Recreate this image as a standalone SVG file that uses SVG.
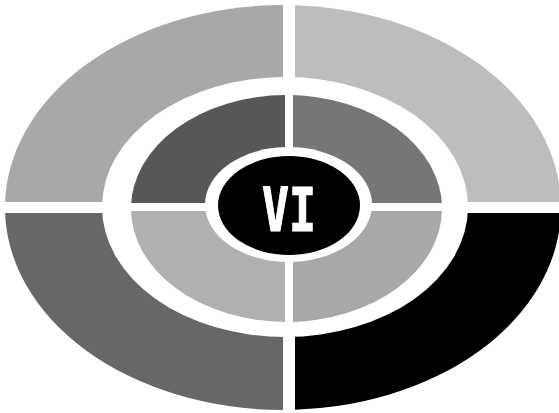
<svg xmlns="http://www.w3.org/2000/svg" width="559" height="413" viewBox="0 0 559 413">
  <style>
    .gap { fill: #ffffff; }
    .label { font-family: "DejaVu Sans Mono", "Liberation Mono", monospace; font-weight: bold; fill: #ffffff; }
  </style>
  <defs>
    <clipPath id="oTL"><rect x="0" y="0" width="283" height="202"/></clipPath>
    <clipPath id="oTR"><rect x="295" y="0" width="264" height="202"/></clipPath>
    <clipPath id="oBL"><rect x="0" y="213" width="283" height="200"/></clipPath>
    <clipPath id="oBR"><rect x="295" y="213" width="264" height="200"/></clipPath>
    <clipPath id="mTL"><rect x="0" y="0" width="285" height="203"/></clipPath>
    <clipPath id="mTR"><rect x="293" y="0" width="266" height="203"/></clipPath>
    <clipPath id="mBL"><rect x="0" y="211" width="285" height="202"/></clipPath>
    <clipPath id="mBR"><rect x="293" y="211" width="266" height="202"/></clipPath>
    <ellipse id="outerE" cx="283" cy="207.5" rx="278" ry="202.5"/>
    <ellipse id="midE" cx="286.5" cy="208.5" rx="155.5" ry="113.5"/>
  </defs>
  <rect width="559" height="413" fill="#ffffff"/>
  <g id="outer-top-left"><use href="#outerE" clip-path="url(#oTL)" fill="#a8a8a8"/></g>
  <g id="outer-top-right"><use href="#outerE" clip-path="url(#oTR)" fill="#bdbdbd"/></g>
  <g id="outer-bottom-left"><use href="#outerE" clip-path="url(#oBL)" fill="#676767"/></g>
  <g id="outer-bottom-right"><use href="#outerE" clip-path="url(#oBR)" fill="#000000"/></g>
  <ellipse class="gap" cx="285" cy="207" rx="183" ry="130"/>
  <g id="middle-top-left"><use href="#midE" clip-path="url(#mTL)" fill="#575757"/></g>
  <g id="middle-top-right"><use href="#midE" clip-path="url(#mTR)" fill="#767676"/></g>
  <g id="middle-bottom-left"><use href="#midE" clip-path="url(#mBL)" fill="#b0b0b0"/></g>
  <g id="middle-bottom-right"><use href="#midE" clip-path="url(#mBR)" fill="#a8a8a8"/></g>
  <ellipse class="gap" cx="288.5" cy="204.5" rx="83.5" ry="57.5"/>
  <g id="center">
    <ellipse cx="289" cy="205.5" rx="71" ry="49.5" fill="#000000"/>
    <text class="label" x="289" y="230.5" font-size="60" text-anchor="middle" textLength="54" lengthAdjust="spacingAndGlyphs" stroke="#ffffff" stroke-width="1.2">VI</text>
  </g>
</svg>
